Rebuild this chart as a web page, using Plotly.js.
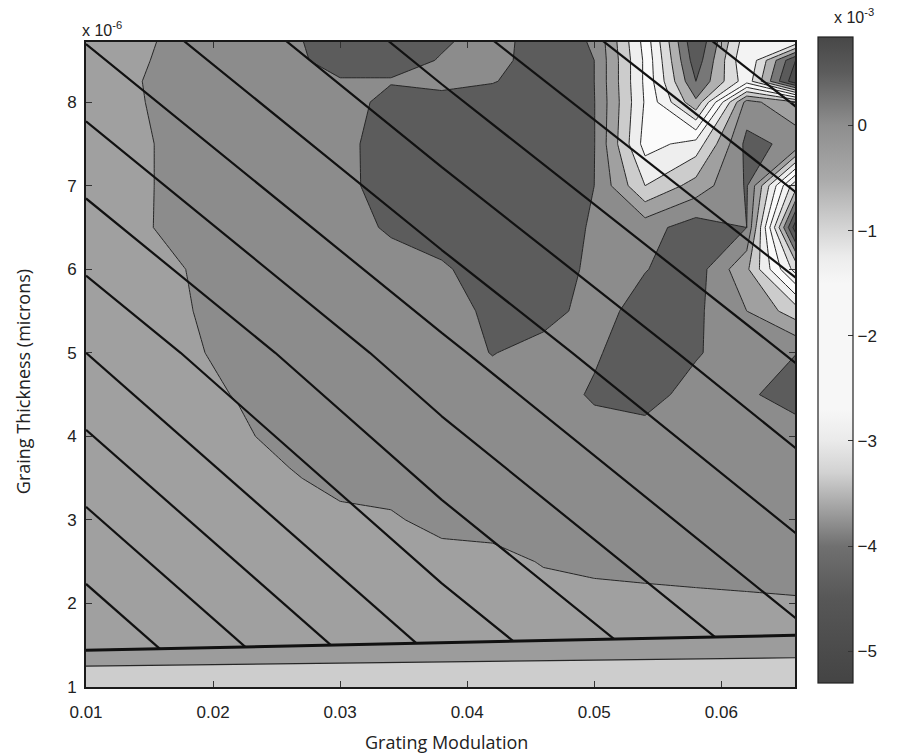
<!DOCTYPE html>
<html>
<head>
<meta charset="utf-8">
<script src="https://cdn.plot.ly/plotly-3.0.1.min.js"></script>
<style>
  html, body { margin: 0; padding: 0; background: #ffffff; }
  #chart { width: 906px; height: 756px; }
</style>
</head>
<body>
<div id="chart"></div>
<script>
// ---- data (z in units of 1e-3, y in units of 1e-6) ----
const xGrid = [0.010, 0.014, 0.018, 0.022, 0.026, 0.030, 0.034, 0.038, 0.042, 0.046, 0.050, 0.054, 0.058, 0.062, 0.066];
const yGrid = [1.0, 1.5, 2.0, 2.5, 3.0, 3.5, 4.0, 4.5, 5.0, 5.5, 6.0, 6.5, 7.0, 7.5, 8.0, 8.25, 8.5, 8.75];
const zMain = [
  [-0.3,-0.3,-0.3,-0.3,-0.3,-0.3,-0.3,-0.3,-0.3,-0.3,-0.3,-0.3,-0.3,-0.3,-0.3],
  [-0.3,-0.3,-0.3,-0.3,-0.3,-0.3,-0.3,-0.3,-0.3,-0.3,-0.3,-0.3,-0.3,-0.3,-0.3],
  [-0.3,-0.3,-0.3,-0.3,-0.3,-0.3,-0.3,-0.3,-0.3,-0.25,-0.18,-0.14,-0.11,-0.08,-0.05],
  [-0.3,-0.3,-0.3,-0.3,-0.3,-0.3,-0.28,-0.25,-0.2,0.04,0.12,0.15,0.18,0.2,0.22],
  [-0.3,-0.3,-0.3,-0.3,-0.25,-0.2,-0.08,0.2,0.25,0.25,0.25,0.25,0.25,0.25,0.25],
  [-0.3,-0.3,-0.3,-0.25,-0.083,0.25,0.25,0.25,0.25,0.25,0.25,0.25,0.25,0.25,0.25],
  [-0.3,-0.3,-0.25,-0.125,0.25,0.25,0.25,0.25,0.25,0.25,0.35,0.3,0.25,0.25,0.35],
  [-0.3,-0.28,-0.2,0.04,0.25,0.25,0.25,0.25,0.25,0.3,0.55,0.7,0.3,0.45,0.65],
  [-0.3,-0.25,-0.13,0.25,0.25,0.25,0.25,0.25,0.52,0.3,0.45,0.75,0.55,0.2,0.5],
  [-0.3,-0.25,-0.03,0.25,0.25,0.25,0.25,0.3,0.6,0.7,0.3,0.7,0.6,0.0,-0.8],
  [-0.3,-0.25,0.01,0.25,0.25,0.25,0.25,0.43,0.75,0.75,0.4,0.48,0.75,-0.4,-2.8],
  [-0.3,-0.12,0.25,0.25,0.25,0.25,0.58,0.75,0.75,0.75,0.45,0.3,0.75,0.5,-5.0],
  [-0.3,-0.13,0.25,0.25,0.25,0.33,0.75,0.75,0.75,0.75,0.5,-1.0,-0.3,0.55,-3.0],
  [-0.3,-0.13,0.25,0.25,0.25,0.34,0.75,0.75,0.75,0.75,0.52,-1.7,-1.3,0.65,0.35],
  [-0.3,-0.05,0.25,0.25,0.25,0.14,0.75,0.75,0.75,0.75,0.52,-1.55,-3.4,0.2,-0.5],
  [-0.3,-0.03,0.25,0.25,0.3,0.45,0.45,0.3,0.47,0.75,0.5,-1.6,-4.0,-2.2,-5.0],
  [-0.3,-0.09,0.25,0.25,0.34,0.75,0.75,0.46,0.33,0.75,0.5,-1.6,-4.3,-2.0,-4.6],
  [-0.3,-0.17,0.25,0.25,0.41,0.75,0.75,0.58,0.3,0.75,0.45,-1.7,-4.5,-2.2,-2.0]
];

// second quantity: the straight black contour lines (line index read at grid points)
const diagX = [0.010, 0.038, 0.066];
const diagY = [1.45, 5.0, 8.75];
const diagZ = [
  [0.15, 4.21, 7.65],
  [4.0, 7.76, 11.14],
  [8.06, 11.54, 14.8]
];

// third quantity: bottom band (thick boundary = level -2, thin line = level -1)
const bandX = [0.010, 0.066];
const bandY = [1.0, 2.0];
const bandZ = [
  [0.32, 0.30],
  [-4.95, -3.41]
];

const xTickVals = [0.01, 0.02, 0.03, 0.04, 0.05, 0.06];
const xTickText = ['0.01', '0.02', '0.03', '0.04', '0.05', '0.06'];
const yTickVals = [1, 2, 3, 4, 5, 6, 7, 8];
const yTickText = ['1', '2', '3', '4', '5', '6', '7', '8'];
const cbTickVals = [0, -1, -2, -3, -4, -5];
const cbTickText = ['0', '\u22121', '\u22122', '\u22123', '\u22124', '\u22125'];

// ---- styling ----
// fill gray of each contour band (levels -5 .. 0.5 step 0.5), bottom band first
const bandGrays = ['#444444','#4e4e4e','#5a5a5a','#777777','#b0b0b0','#dcdcdc','#f3f3f3','#fbfbfb','#eeeeee','#cccccc','#a0a0a0','#8c8c8c','#5c5c5c'];
const contourScale = bandGrays.map((c, i) => [i / (bandGrays.length - 1), c]);

// colorbar gradient
const cbVals  = [-5.3, -5.0, -4.5, -4.0, -3.6, -3.3, -3.0, -2.7, -1.5, -1.25, -1.0, -0.8, -0.5, 0.0, 0.2, 0.5, 0.84];
const cbGrays = ['#444444','#4b4b4b','#575757','#707070','#a8a8a8','#d2d2d2','#eaeaea','#f7f7f7','#f7f7f7','#ececec','#d6d6d6','#c4c4c4','#a9a9a9','#8e8e8e','#7a7a7a','#5c5c5c','#474747'];
const cbMin = cbVals[0], cbMax = cbVals[cbVals.length - 1];
const cbScale = cbVals.map((v, i) => [(v - cbMin) / (cbMax - cbMin), cbGrays[i]]);

const traces = [
  { // carries the colorbar (hidden under the filled contours)
    type: 'heatmap', x: xGrid, y: yGrid, z: zMain,
    zmin: cbMin, zmax: cbMax, colorscale: cbScale, hoverinfo: 'skip',
    showscale: true,
    colorbar: {
      x: 1.0324, xanchor: 'left', xpad: 0,
      y: 0.507, yanchor: 'middle', ypad: 0,
      len: 646, lenmode: 'pixels', thickness: 35, thicknessmode: 'pixels',
      outlinewidth: 1.2, outlinecolor: '#222',
      tickmode: 'array', tickvals: cbTickVals, ticktext: cbTickText,
      ticks: 'inside', ticklen: 5, tickcolor: '#333', tickwidth: 1,
      tickfont: { family: 'Liberation Sans, Arial, sans-serif', size: 17, color: '#222' }
    }
  },
  { // main filled contours
    type: 'contour', x: xGrid, y: yGrid, z: zMain,
    autocontour: false,
    contours: { start: -5, end: 0.5, size: 0.5, coloring: 'fill', showlines: true },
    colorscale: contourScale, showscale: false,
    line: { color: '#262626', width: 1, smoothing: 0 },
    hoverinfo: 'skip'
  },
  { // straight black lines
    type: 'contour', x: diagX, y: diagY, z: diagZ,
    autocontour: false,
    contours: { start: 1, end: 15, size: 1, coloring: 'none' },
    line: { color: '#111111', width: 2.2, smoothing: 0 },
    showscale: false, hoverinfo: 'skip'
  },
  { // bottom band fill (region above the thick line is the transparent background)
    type: 'contour', x: bandX, y: bandY, z: bandZ,
    autocontour: false,
    contours: { start: -2, end: -1, size: 1, coloring: 'fill', showlines: true },
    colorscale: [[0, 'rgba(255,255,255,0)'], [0.25, 'rgba(255,255,255,0)'], [0.26, '#9c9c9c'], [0.74, '#9c9c9c'], [0.75, '#cdcdcd'], [1, '#cdcdcd']],
    line: { color: '#262626', width: 1.2, smoothing: 0 },
    showscale: false, hoverinfo: 'skip'
  },
  { // thick boundary line
    type: 'contour', x: bandX, y: bandY, z: bandZ,
    autocontour: false,
    contours: { start: -2, end: -2, size: 1, coloring: 'none' },
    line: { color: '#111111', width: 3, smoothing: 0 },
    showscale: false, hoverinfo: 'skip'
  }
];

const tickFont = { family: 'Liberation Sans, Arial, sans-serif', size: 17, color: '#222' };
const titleFont = { family: 'Open Sans, sans-serif', size: 18, color: '#222' };

const layout = {
  width: 906, height: 756,
  margin: { l: 86, r: 111, t: 42, b: 69, pad: 0 },
  paper_bgcolor: '#ffffff', plot_bgcolor: '#ffffff',
  showlegend: false,
  xaxis: {
    range: [0.01, 0.0658], tickmode: 'array', tickvals: xTickVals, ticktext: xTickText,
    ticks: 'inside', ticklen: 6, tickcolor: '#333', tickwidth: 1,
    showline: true, linecolor: '#1a1a1a', linewidth: 1.8, mirror: 'ticks',
    showgrid: false, zeroline: false, tickfont: tickFont, ticklabelstandoff: 9
  },
  yaxis: {
    range: [1, 8.72], tickmode: 'array', tickvals: yTickVals, ticktext: yTickText,
    ticks: 'inside', ticklen: 6, tickcolor: '#333', tickwidth: 1,
    showline: true, linecolor: '#1a1a1a', linewidth: 1.8, mirror: 'ticks',
    showgrid: false, zeroline: false, tickfont: tickFont, ticklabelstandoff: 4
  },
  annotations: [
    { text: 'x 10<sup>-6</sup>', xref: 'paper', yref: 'paper', x: -0.009, y: 1.02,
      xanchor: 'left', yanchor: 'middle', showarrow: false, font: { family: 'Liberation Sans, Arial, sans-serif', size: 16, color: '#222' } },
    { text: 'x 10<sup>-3</sup>', xref: 'paper', yref: 'paper', x: 1.052, y: 1.04,
      xanchor: 'left', yanchor: 'middle', showarrow: false, font: { family: 'Liberation Sans, Arial, sans-serif', size: 16, color: '#222' } },
    { text: 'Grating Modulation', xref: 'paper', yref: 'paper', x: 0.508, y: -0.086,
      xanchor: 'center', yanchor: 'middle', showarrow: false, font: titleFont },
    { text: 'Graing Thickness (microns)', xref: 'paper', yref: 'paper', x: -0.089, y: 0.474,
      xanchor: 'center', yanchor: 'middle', textangle: -90, showarrow: false, font: titleFont }
  ]
};

Plotly.newPlot('chart', traces, layout, { staticPlot: true, displayModeBar: false });
</script>
</body>
</html>
